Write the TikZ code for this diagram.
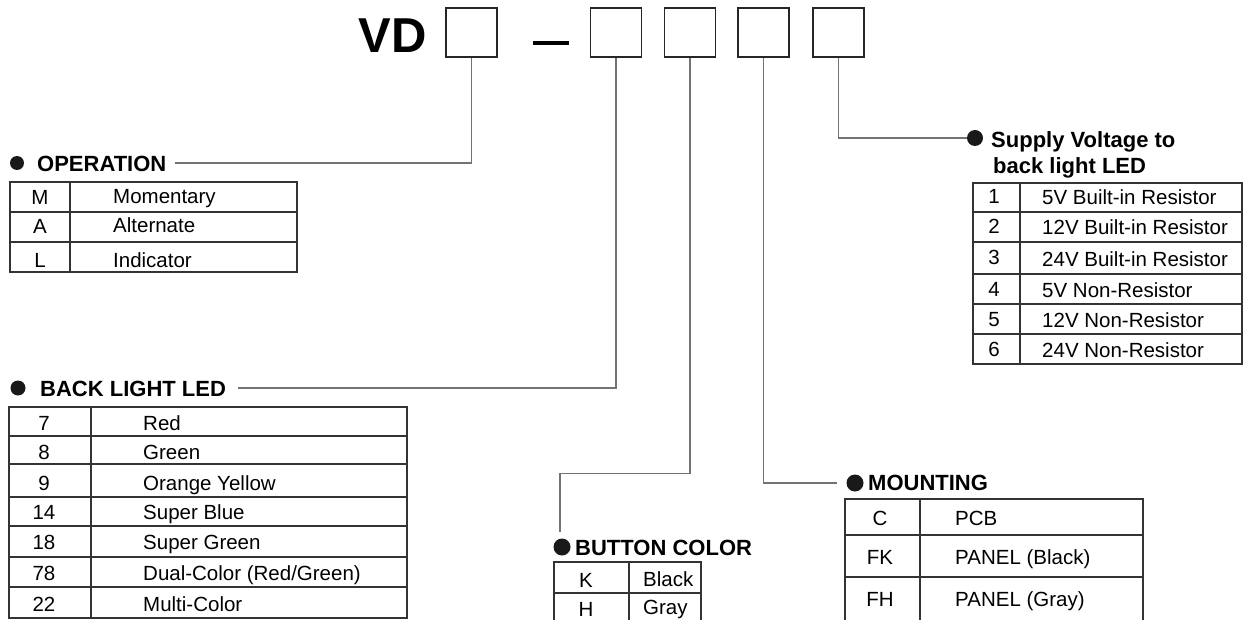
\documentclass[tikz,border=0pt]{standalone}
\usepackage{fontspec}
\setmainfont{Liberation Sans}

\begin{document}
\begin{tikzpicture}[x=1pt, y=-1pt,
    codebox/.style={draw=black!85, line width=1.4pt, minimum width=51pt, minimum height=49pt, inner sep=0pt},
    wire/.style={black!55, line width=1.3pt},
    grid/.style={black!80, line width=1.2pt},
    bullet/.style={circle, fill=black!90, minimum size=16pt, inner sep=0pt},
    head/.style={font=\fontsize{22}{24}\selectfont\bfseries, anchor=base west, inner sep=0pt},
    cellkey/.style={font=\fontsize{20.5}{22}\selectfont, anchor=base, inner sep=0pt},
    celltxt/.style={font=\fontsize{20.5}{22}\selectfont, anchor=base west, inner sep=0pt}]
    \useasboundingbox (0,0) rectangle (1244,620);

    % code line
    \node[font=\fontsize{49}{50}\selectfont\bfseries, anchor=base east, inner sep=0pt] (vd) at (427,53) {VD};
    \node[codebox] (b1) at (471.5,32.5) {};
    \draw[line width=3.5pt] (533,43) -- (569,43);
    \node[codebox] (b2) at (616,32.5) {};
    \node[codebox] (b3) at (690,32.5) {};
    \node[codebox] (b4) at (763.5,32.5) {};
    \node[codebox] (b5) at (838.5,32.5) {};

    % operation
    \node[bullet, minimum size=14pt] (opdot) at (17,163) {};
    \node[head] (ophead) at (37,172) {OPERATION};
    \coordinate (opend) at (175,163);
    \draw[wire] (b1.south) |- (opend);
    \draw[grid] (10,182) rectangle (297,272);
    \draw[grid] (70,182) -- (70,272);
    \foreach \y in {212,242} \draw[grid] (10,\y) -- (297,\y);
    \foreach \k/\t/\y [count=\i] in {M/Momentary/204,A/Alternate/233,L/Indicator/267}
      {\node[cellkey] (opk\i) at (40,\y+1) {\k};
       \node[celltxt] (opt\i) at (113,\y) {\t};}

    % back light led
    \node[bullet, minimum size=15pt] (bldot) at (18,388) {};
    \node[head] (blhead) at (40,396) {BACK LIGHT LED};
    \coordinate (blend) at (238,388);
    \draw[wire] (b2.south) |- (blend);
    \draw[grid] (9,407) rectangle (407,618);
    \draw[grid] (91,407) -- (91,618);
    \foreach \y in {436,464,497,526,557,587} \draw[grid] (9,\y) -- (407,\y);
    \foreach \k/\t/\y [count=\i] in {7/Red/430,8/Green/459,9/Orange Yellow/490,14/Super Blue/519,
        18/Super Green/549,78/{Dual-Color (Red/Green)}/580,22/Multi-Color/611}
      {\node[cellkey] (blk\i) at (44,\y) {\k};
       \node[celltxt] (blt\i) at (143,\y) {\t};}

    % button color
    \node[bullet, minimum size=17pt] (bcdot) at (562,547) {};
    \node[head] (bchead) at (575,555) {BUTTON COLOR};
    \coordinate (bcend) at (560,532);
    \draw[wire] (b3.south) -- ++(0,416) -| (bcend);
    \draw[grid] (554,625) -- (554,562) -- (701,562) -- (701,625);
    \draw[grid] (629,562) -- (629,625);
    \draw[grid] (554,593) -- (701,593);
    \node[cellkey] (bck1) at (586,587) {K};
    \node[celltxt] (bct1) at (643,586) {Black};
    \node[cellkey] (bck2) at (586,616) {H};
    \node[celltxt] (bct2) at (643,614) {Gray};

    % mounting
    \node[bullet, minimum size=17pt] (mtdot) at (855,483) {};
    \node[head] (mthead) at (868,490) {MOUNTING};
    \coordinate (mtend) at (837,483);
    \draw[wire] (b4.south) |- (mtend);
    \draw[grid] (845,625) -- (845,499) -- (1143,499) -- (1143,625);
    \draw[grid] (920,499) -- (920,625);
    \foreach \y in {535,577} \draw[grid] (845,\y) -- (1143,\y);
    \foreach \k/\t/\y [count=\i] in {C/PCB/525,FK/PANEL (Black)/564,FH/PANEL (Gray)/606}
      {\node[cellkey] (mtk\i) at (880,\y) {\k};
       \node[celltxt] (mtt\i) at (955,\y) {\t};}

    % supply voltage
    \node[bullet, minimum size=16pt] (svdot) at (975,138) {};
    \node[head] (svhead) at (991,148) {Supply Voltage to};
    \node[head] (svhead2) at (993,174) {back light LED};
    \draw[wire] (b5.south) |- (svdot);
    \draw[grid] (973,183) rectangle (1242,364);
    \draw[grid] (1020,183) -- (1020,364);
    \foreach \y in {212,242,274,304,334} \draw[grid] (973,\y) -- (1242,\y);
    \foreach \k/\t/\y [count=\i] in {1/5V Built-in Resistor/205,2/12V Built-in Resistor/235,
        3/24V Built-in Resistor/266,4/5V Non-Resistor/297,5/12V Non-Resistor/327,6/24V Non-Resistor/357}
      {\node[cellkey] (svk\i) at (994,\y-1) {\k};
       \node[celltxt] (svt\i) at (1042,\y) {\t};}
\end{tikzpicture}
\end{document}
